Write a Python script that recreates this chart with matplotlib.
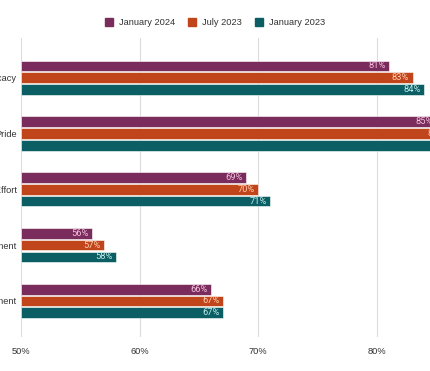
import matplotlib
matplotlib.use("Agg")
import matplotlib.pyplot as plt
import numpy as np
from matplotlib.lines import Line2D

categories = ["Advocacy", "Pride", "Discretionary Effort", "Engagement", "Alignment"]
series_names = ["January 2024", "July 2023", "January 2023"]
jan_2024 = [81, 85, 69, 56, 66]
jul_2023 = [83, 86, 70, 57, 67]
jan_2023 = [84, 87, 71, 58, 67]
xticks = [50, 60, 70, 80, 90]
xtick_labels = ["50%", "60%", "70%", "80%", "90%"]

colors = ["#7A2D5D", "#C1451B", "#0B5E63"]
label_colors = ["#F3BEDC", "#FFCBAE", "#BDEBEC"]

plt.rcParams['font.family'] = ['Liberation Sans', 'DejaVu Sans']

fig = plt.figure(figsize=(4.30, 3.71), dpi=100)
ax = fig.add_axes([21/430, 34/371, 474.7/430, 299/371])

values = [jan_2024, jul_2023, jan_2023]
y = np.arange(len(categories))
offsets = [-0.21, 0.0, 0.21]
bar_h = 0.19

for vals, off, c, lc, name in zip(values, offsets, colors, label_colors, series_names):
    bars = ax.barh(y + off, np.array(vals) - 50, left=50, height=bar_h, color=c,
                   edgecolor="white", linewidth=0.4, label=name, zorder=3)
    for b, v in zip(bars, vals):
        ax.annotate(f"{v}%", xy=(v, b.get_y() + b.get_height() / 2),
                    xytext=(-2.6, 0), textcoords="offset points",
                    ha="right", va="center", fontsize=6.7, color=lc,
                    family=["Roboto", "DejaVu Sans"], zorder=4)

ax.set_xlim(50, 90)
ax.set_ylim(4.645, -0.71)
ax.set_xticks(xticks)
ax.set_xticklabels(xtick_labels)
ax.set_yticks(y)
ax.set_yticklabels(categories)
ax.tick_params(axis="both", length=0, labelsize=6.7, labelcolor="#333333")
ax.tick_params(axis="x", pad=7)
ax.tick_params(axis="y", pad=3)
for s in ax.spines.values():
    s.set_visible(False)
ax.grid(axis="x", color="#DCDCDC", linewidth=0.8, zorder=0)
ax.set_axisbelow(True)

handles = [Line2D([0], [0], marker="s", linestyle="none", markersize=5.2,
                  markerfacecolor=c, markeredgecolor=c) for c in colors]
fig.legend(handles, series_names, loc="center", bbox_to_anchor=(0.5, 1 - 22.5/371),
           ncol=3, frameon=False, fontsize=6.7, handlelength=0.8,
           handletextpad=0.7, columnspacing=1.4, labelcolor="#333333")

fig.savefig("out.png", dpi=100)
